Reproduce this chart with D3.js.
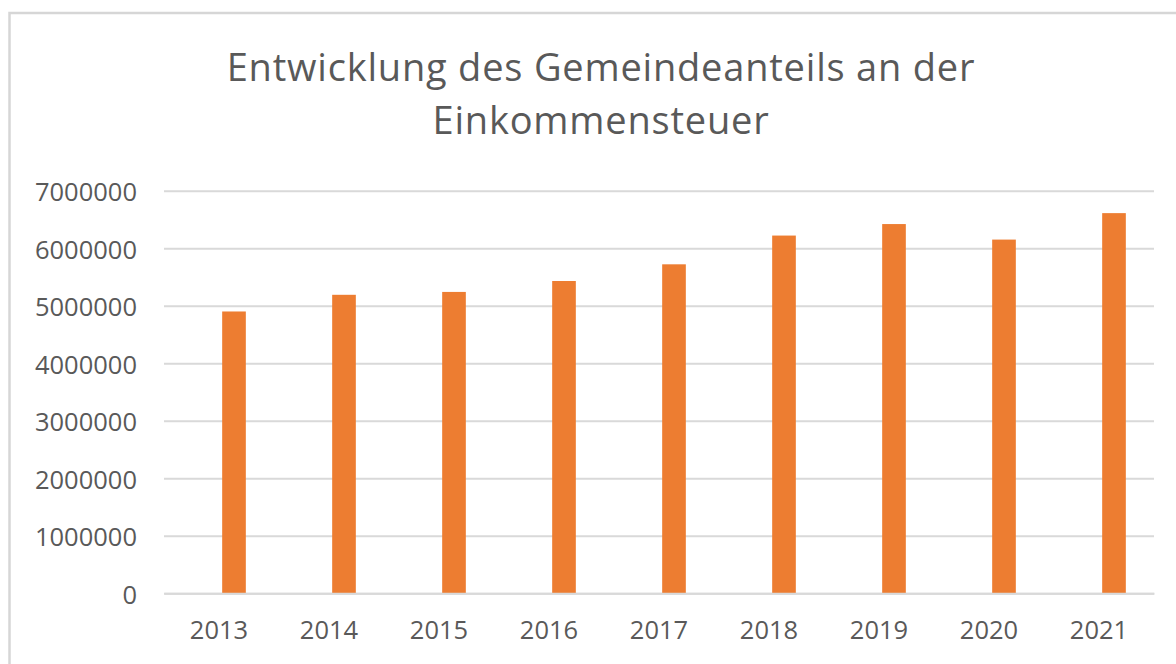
<!DOCTYPE html>
<html>
<head>
<meta charset="utf-8">
<script src="https://cdn.jsdelivr.net/npm/d3@7"></script>
<style>
  html, body { margin: 0; padding: 0; background: #fff; }
  svg { display: block; }
  text { font-family: "Open Sans", "Noto Sans", sans-serif; fill: #595959; }
</style>
</head>
<body>
<div id="chart"></div>
<script>
const WIDTH = 1176;
const HEIGHT = 664;

// data
const titleLines = ["Entwicklung des Gemeindeanteils an der", "Einkommensteuer"];
const years = ["2013", "2014", "2015", "2016", "2017", "2018", "2019", "2020", "2021"];
const anteil = [4900000, 5190000, 5240000, 5430000, 5720000, 6220000, 6420000, 6150000, 6610000];
const yTicks = [0, 1000000, 2000000, 3000000, 4000000, 5000000, 6000000, 7000000];

let margin = {top: 191, right: 22, bottom: 71, left: 164};
let plotRight = 1154;
let barShift = 15; // bars sit right of the category centre, like in the original

let svg = d3.select("#chart").append("svg")
    .attr("width", WIDTH)
    .attr("height", HEIGHT);

// chart frame
svg.append("rect")
    .attr("x", 9.5)
    .attr("y", 13)
    .attr("width", WIDTH + 20)
    .attr("height", HEIGHT + 20)
    .attr("fill", "none")
    .attr("stroke", "#d6d6d6")
    .attr("stroke-width", 2.5);

// title
svg.append("text")
    .attr("x", 601)
    .attr("text-anchor", "middle")
    .style("font-size", "38px")
    .style("letter-spacing", "0.8px")
    .selectAll("tspan")
    .data(titleLines)
  .enter().append("tspan")
    .attr("x", 601)
    .attr("y", (d, i) => 81 + i * 53)
    .text(d => d);

// setup x
let xScale = d3.scaleBand()
    .domain(years)
    .range([margin.left, plotRight])
    .paddingInner(0.785)
    .paddingOuter(0.3925);
let xBar = xScale.copy()
    .range([margin.left + barShift, plotRight + barShift]);

// setup y
let yScale = d3.scaleLinear()
    .domain([0, 7000000])
    .range([593.3, 190.7]);

// gridlines
let yAxis = d3.axisLeft(yScale)
    .tickValues(yTicks)
    .tickSize(-(plotRight - margin.left))
    .tickPadding(27)
    .tickFormat(d3.format("d"));

let yG = svg.append("g")
    .attr("class", "y axis")
    .attr("transform", "translate(" + margin.left + ",0)")
    .call(yAxis);
yG.select(".domain").remove();
yG.selectAll(".tick line")
    .attr("stroke", "#d9d9d9")
    .attr("stroke-width", 2);
yG.selectAll(".tick text")
    .style("font-size", "25.5px")
    .attr("dy", "0.4em")
    .style("fill", "#595959");

// bars
svg.append("g").selectAll("rect")
    .data(anteil)
  .enter().append("rect")
    .attr("x", (d, i) => xBar(years[i]))
    .attr("y", d => yScale(d))
    .attr("width", xBar.bandwidth())
    .attr("height", d => yScale(0) - yScale(d))
    .attr("fill", "#ed7d31");

// x axis
let xAxis = d3.axisBottom(xScale)
    .tickSize(0)
    .tickPadding(33);
let xG = svg.append("g")
    .attr("class", "x axis")
    .attr("transform", "translate(0," + yScale(0) + ")")
    .call(xAxis);
xG.select(".domain")
    .attr("stroke", "#d9d9d9")
    .attr("stroke-width", 2);
xG.selectAll(".tick text")
    .style("font-size", "25.5px")
    .attr("dy", "0.5em")
    .style("fill", "#595959");
</script>
</body>
</html>
